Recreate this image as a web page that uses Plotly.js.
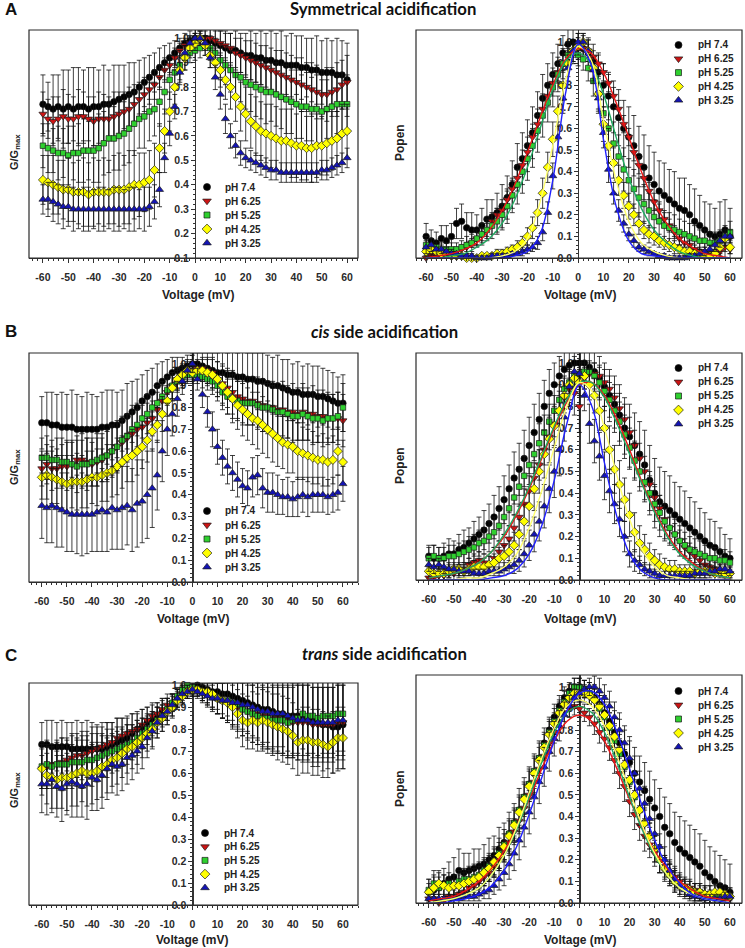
<!DOCTYPE html>
<html><head><meta charset="utf-8">
<script src="https://cdn.plot.ly/plotly-3.0.1.min.js"></script>
<style>html,body{margin:0;padding:0;background:#fff}</style>
</head><body><div id="chart" style="width:745px;height:948px"></div>
<script>
// ---------- shared categories ----------
const VOLT = [-60,-58,-56,-54,-52,-50,-48,-46,-44,-42, -40,-38,-36,-34,-32,-30,-28,-26,-24,-22, -20,-18,-16,-14,-12,-10,-8,-6,-4,-2, 0,2,4,6,8,10,12,14,16,18, 20,22,24,26,28,30,32,34,36,38, 40,42,44,46,48,50,52,54,56,58, 60];
const FIT_V = [-60,-55,-50,-45,-40,-35,-30,-25,-20,-15,-10,-5,0,5,10,15,20,25,30,35,40,45,50,55,60];
const SERIES_NAMES = ['pH 7.4','pH 6.25','pH 5.25','pH 4.25','pH 3.25'];
const X_TICKS = [-60,-50,-40,-30,-20,-10,0,10,20,30,40,50,60];
const X_TICK_LABELS = ['-60','-50','-40','-30','-20','-10','0','10','20','30','40','50','60'];

// ---------- A left: G/Gmax, symmetrical ----------
const AL_74  = [.73,.72,.71,.72,.71,.72,.71,.72,.72,.71, .72,.72,.73,.73,.74,.75,.76,.77,.78,.80, .82,.84,.86,.88,.90,.92,.94,.96,.98,.99, 1.0,1.0,1.0,.99,.98,.97,.96,.95,.95,.94, .93,.93,.92,.92,.91,.91,.90,.90,.89,.89, .89,.88,.88,.87,.87,.86,.86,.86,.85,.85, .83];
const AL_74e = [.12,.10,.14,.13,.16,.15,.17,.16,.15,.17, .16,.15,.16,.14,.15,.14,.13,.13,.12,.11, .10,.09,.08,.08,.07,.06,.05,.04,.04,.04, .04,.03,.04,.05,.06,.06,.07,.07,.08,.08, .09,.10,.10,.11,.11,.12,.12,.13,.12,.13, .12,.13,.12,.13,.14,.13,.14,.13,.15,.14, .15];
const AL_625  = [.69,.67,.66,.67,.68,.67,.67,.68,.68,.67, .66,.67,.67,.67,.68,.69,.70,.71,.73,.75, .77,.79,.81,.84,.87,.89,.92,.95,.97,.98, .99,1.0,1.0,1.0,.99,.98,.97,.96,.94,.93, .92,.91,.90,.89,.88,.87,.86,.85,.84,.83, .82,.81,.80,.79,.78,.77,.77,.78,.79,.81, .82];
const AL_625e = [.09,.08,.10,.09,.11,.10,.09,.11,.10,.09, .10,.11,.10,.09,.10,.09,.08,.09,.08,.07, .07,.06,.06,.05,.05,.04,.04,.03,.03,.03, .03,.03,.03,.04,.04,.05,.05,.06,.06,.07, .07,.08,.08,.08,.09,.09,.09,.10,.10,.10, .10,.11,.10,.11,.11,.10,.11,.10,.11,.10, .11];
const AL_525  = [.56,.55,.54,.53,.53,.52,.53,.53,.54,.54, .54,.55,.57,.59,.59,.60,.61,.63,.65,.67, .68,.70,.71,.74,.78,.83,.86,.89,.92,.94, .95,.96,.97,.96,.94,.91,.89,.87,.85,.84, .82,.81,.80,.79,.78,.78,.77,.76,.75,.74, .73,.72,.72,.71,.71,.70,.71,.72,.73,.73, .73];
const AL_525e = [.09,.10,.09,.11,.10,.12,.11,.12,.13,.12, .13,.14,.13,.14,.13,.14,.13,.14,.13,.12, .13,.12,.11,.10,.09,.08,.07,.06,.05,.04, .04,.04,.04,.05,.06,.07,.08,.09,.10,.10, .11,.11,.12,.12,.13,.12,.13,.13,.14,.13, .14,.13,.14,.13,.14,.13,.12,.13,.12,.13, .12];
const AL_425  = [.42,.41,.40,.39,.38,.38,.37,.37,.37,.36, .37,.37,.37,.37,.38,.38,.38,.39,.40,.40, .41,.42,.46,.55,.62,.70,.80,.87,.92,.96, .98,1.0,.97,.93,.90,.87,.83,.80,.76,.72, .69,.66,.64,.62,.61,.60,.59,.58,.58,.57, .56,.56,.55,.55,.56,.56,.57,.58,.59,.61, .62];
const AL_425e = [.10,.11,.12,.11,.12,.13,.12,.13,.14,.13, .14,.13,.14,.13,.14,.15,.14,.15,.14,.13, .12,.12,.11,.10,.09,.08,.07,.06,.05,.04, .03,.03,.04,.05,.06,.07,.08,.09,.10,.10, .11,.11,.12,.12,.12,.13,.13,.13,.13,.14, .13,.14,.13,.14,.13,.12,.13,.12,.11,.12, .11];
const AL_325  = [.34,.34,.33,.32,.31,.31,.30,.30,.30,.30, .30,.30,.30,.30,.30,.30,.30,.30,.30,.30, .30,.31,.33,.38,.51,.61,.72,.86,.94,.98, 1.0,1.0,.98,.92,.84,.77,.67,.60,.56,.53, .51,.50,.49,.48,.47,.46,.46,.45,.45,.45, .45,.45,.45,.45,.45,.46,.46,.47,.48,.49, .51];
const AL_325e = [.06,.07,.08,.08,.09,.08,.09,.08,.09,.09, .08,.09,.09,.08,.09,.09,.08,.09,.09,.08, .09,.08,.07,.07,.06,.05,.05,.04,.03,.03, .02,.02,.03,.04,.05,.06,.06,.05,.05,.05, .04,.04,.04,.04,.04,.04,.04,.04,.04,.04, .04,.04,.04,.04,.04,.04,.04,.04,.04,.04, .04];

// ---------- A right: Popen, symmetrical ----------
const AR_74  = [.10,.08,.07,.09,.08,.10,.16,.17,.14,.13, .13,.15,.18,.19,.21,.24,.28,.34,.42,.46, .52,.58,.66,.74,.80,.85,.90,.95,.99,1.0, .98,.97,.95,.91,.86,.80,.75,.70,.65,.60, .56,.52,.47,.42,.37,.34,.31,.29,.27,.25, .23,.22,.20,.17,.15,.13,.11,.10,.11,.13, .10];
const AR_74e = [.06,.05,.05,.06,.07,.06,.07,.08,.07,.08, .07,.08,.09,.08,.09,.10,.10,.11,.11,.12, .12,.12,.11,.11,.10,.10,.09,.08,.07,.06, .06,.06,.07,.08,.09,.10,.11,.12,.13,.13, .14,.14,.14,.15,.15,.15,.14,.15,.14,.15, .14,.15,.14,.15,.14,.13,.14,.13,.15,.14, .13];
const AR_625  = [.00,.01,.01,.01,.02,.02,.03,.04,.05,.07, .09,.11,.13,.17,.20,.22,.27,.32,.37,.43, .49,.56,.62,.69,.75,.81,.86,.90,.94,.96, .97,.97,.96,.93,.90,.86,.81,.75,.69,.62, .56,.49,.43,.37,.31,.26,.22,.18,.15,.12, .09,.07,.06,.04,.03,.03,.02,.02,.03,.05, .04];
const AR_625e = [.01,.01,.01,.01,.01,.02,.02,.02,.02,.02, .03,.03,.03,.03,.03,.03,.04,.04,.04,.04, .04,.04,.04,.04,.04,.04,.04,.04,.03,.03, .03,.03,.03,.03,.04,.04,.04,.04,.04,.04, .04,.04,.04,.04,.04,.04,.04,.03,.03,.03, .03,.03,.02,.02,.02,.02,.02,.02,.02,.02, .02];
const AR_525  = [.06,.05,.05,.04,.04,.04,.04,.05,.06,.07, .09,.11,.13,.15,.17,.20,.24,.29,.34,.40, .46,.52,.59,.66,.72,.79,.85,.90,.94,.95, .94,.92,.88,.82,.76,.67,.60,.53,.47,.41, .36,.32,.28,.25,.22,.19,.17,.15,.14,.13, .12,.11,.10,.09,.08,.08,.07,.07,.08,.10, .12];
const AR_525e = [.04,.04,.03,.03,.03,.03,.03,.03,.04,.04, .04,.05,.05,.06,.06,.07,.08,.08,.09,.10, .10,.10,.10,.10,.09,.09,.08,.07,.06,.05, .05,.05,.06,.07,.08,.09,.10,.10,.10,.10, .10,.09,.09,.09,.08,.08,.08,.07,.07,.07, .06,.06,.06,.06,.05,.05,.05,.05,.05,.05, .05];
const AR_425  = [.03,.04,.03,.02,.02,.01,.01,.01,.00,.00, .00,.01,.01,.01,.02,.02,.03,.04,.05,.07, .10,.14,.21,.30,.42,.55,.68,.80,.90,.96, .98,1.0,.96,.88,.76,.62,.52,.44,.36,.29, .24,.20,.16,.13,.11,.10,.08,.07,.06,.05, .04,.03,.03,.02,.02,.01,.01,.02,.05,.09, .05];
const AR_425e = [.02,.02,.02,.02,.02,.02,.01,.01,.01,.01, .01,.01,.01,.01,.02,.02,.02,.02,.03,.03, .04,.05,.06,.07,.07,.08,.07,.07,.06,.05, .04,.04,.05,.06,.07,.08,.08,.07,.07,.06, .06,.05,.05,.04,.04,.04,.03,.03,.03,.03, .02,.02,.02,.02,.02,.02,.02,.02,.03,.03, .03];
const AR_325  = [.05,.06,.04,.04,.03,.02,.02,.01,.01,.01, .00,.00,.00,.01,.01,.01,.01,.02,.02,.03, .04,.05,.07,.12,.21,.38,.56,.74,.88,.96, 1.0,1.0,.96,.87,.74,.58,.41,.30,.22,.16, .11,.08,.05,.04,.03,.02,.01,.01,.00,.00, .00,.00,.01,.01,.02,.03,.04,.06,.08,.10, .10];
const AR_325e = [.03,.03,.03,.02,.02,.02,.01,.01,.01,.01, .01,.01,.01,.01,.01,.01,.01,.01,.01,.02, .02,.02,.03,.04,.05,.06,.07,.07,.06,.05, .04,.04,.05,.06,.07,.07,.06,.05,.05,.04, .03,.03,.02,.02,.02,.01,.01,.01,.01,.01, .01,.01,.01,.01,.02,.02,.02,.03,.03,.03, .03];
const AR_F625 = [.00,.01,.02,.04,.07,.13,.22,.34,.49,.65,.80,.92,.97,.95,.86,.72,.56,.40,.26,.16,.09,.05,.02,.01,.00];
const AR_F525 = [.00,.00,.01,.02,.05,.09,.16,.27,.42,.60,.78,.91,.95,.90,.76,.56,.37,.23,.13,.07,.03,.01,.00,.00,.00];
const AR_F425 = [.00,.00,.00,.00,.00,.00,.01,.03,.09,.26,.52,.82,.98,.92,.64,.36,.17,.07,.03,.01,.00,.00,.00,.00,.00];
const AR_F325 = [.00,.00,.00,.00,.00,.00,.00,.01,.03,.11,.36,.76,.99,.90,.55,.24,.08,.02,.01,.00,.00,.00,.00,.00,.00];

// ---------- B left: G/Gmax, cis ----------
const BL_74  = [.73,.73,.72,.72,.71,.71,.71,.70,.70,.70, .70,.70,.71,.71,.72,.72,.74,.76,.78,.80, .83,.85,.87,.90,.92,.94,.96,.97,.98,.99, 1.0,1.0,.99,.98,.97,.96,.96,.95,.95,.94, .94,.93,.93,.92,.92,.91,.90,.90,.89,.88, .87,.87,.86,.86,.86,.85,.85,.84,.83,.82, .82];
const BL_74e = [.12,.14,.15,.14,.16,.15,.17,.16,.15,.17, .16,.15,.16,.17,.16,.15,.14,.15,.14,.13, .12,.12,.11,.10,.09,.08,.07,.06,.05,.05, .05,.05,.06,.07,.08,.09,.10,.10,.11,.11, .12,.12,.12,.13,.13,.13,.13,.14,.13,.14, .13,.14,.13,.14,.13,.14,.13,.13,.13,.12, .13];
const BL_625  = [.52,.54,.52,.52,.53,.53,.54,.56,.56,.55, .54,.55,.56,.58,.60,.62,.64,.66,.68,.70, .71,.73,.75,.79,.83,.87,.90,.93,.95,.96, .97,.98,.98,.97,.96,.93,.91,.89,.87,.85, .84,.83,.83,.82,.81,.80,.80,.79,.79,.78, .78,.77,.78,.77,.77,.76,.76,.75,.75,.75, .74];
const BL_625e = [.08,.09,.10,.09,.10,.11,.10,.11,.12,.11, .10,.11,.10,.11,.12,.11,.10,.11,.10,.09, .10,.09,.08,.08,.07,.06,.06,.05,.04,.04, .04,.04,.05,.06,.07,.08,.09,.09,.10,.10, .11,.11,.11,.12,.12,.12,.12,.12,.13,.12, .13,.12,.13,.12,.13,.12,.12,.12,.11,.12, .12];
const BL_525  = [.57,.57,.56,.56,.55,.55,.54,.53,.54,.54, .55,.56,.57,.58,.60,.62,.65,.67,.70,.72, .75,.77,.80,.82,.85,.88,.90,.92,.94,.95, .95,.95,.94,.93,.92,.90,.87,.85,.84,.83, .82,.82,.82,.81,.80,.80,.79,.78,.78,.77, .76,.76,.77,.76,.75,.75,.74,.75,.75,.76, .80];
const BL_525e = [.09,.10,.09,.10,.11,.10,.11,.12,.11,.12, .11,.12,.11,.12,.11,.12,.11,.10,.11,.10, .09,.09,.08,.08,.07,.06,.06,.05,.05,.04, .04,.04,.05,.05,.06,.07,.08,.08,.09,.09, .10,.10,.10,.10,.11,.11,.11,.11,.11,.11, .12,.11,.12,.11,.12,.11,.12,.11,.11,.11, .11];
const BL_425  = [.48,.49,.48,.47,.46,.45,.46,.46,.46,.47, .48,.48,.49,.50,.51,.53,.55,.57,.58,.60, .62,.65,.69,.72,.77,.83,.89,.93,.95,.97, .96,.97,.97,.96,.95,.93,.90,.87,.84,.81, .79,.77,.75,.74,.72,.70,.68,.66,.64,.63, .62,.60,.59,.58,.57,.56,.56,.55,.56,.60, .55];
const BL_425e = [.10,.11,.12,.11,.12,.13,.12,.13,.12,.13, .12,.13,.12,.13,.12,.13,.12,.11,.12,.11, .10,.10,.09,.08,.08,.07,.06,.05,.05,.04, .04,.04,.05,.06,.07,.08,.09,.10,.11,.11, .12,.12,.12,.13,.13,.13,.13,.13,.12,.13, .12,.13,.12,.12,.12,.11,.12,.11,.11,.11, .10];
const BL_325  = [.35,.34,.35,.34,.33,.32,.31,.31,.31,.31, .31,.32,.33,.32,.34,.33,.34,.35,.33,.36, .37,.40,.43,.49,.60,.70,.77,.84,.92,.97, 1.0,.93,.86,.78,.70,.62,.57,.53,.50,.47, .44,.43,.48,.49,.43,.41,.41,.40,.39,.39, .38,.39,.40,.39,.40,.40,.40,.39,.40,.41, .45];
const BL_325e = [.15,.16,.17,.18,.17,.18,.17,.18,.19,.18, .17,.18,.19,.18,.19,.18,.19,.18,.19,.20, .19,.20,.18,.16,.14,.12,.10,.08,.06,.05, .04,.05,.06,.07,.08,.08,.08,.08,.08,.08, .08,.08,.09,.09,.09,.09,.09,.09,.08,.09, .08,.09,.08,.09,.08,.08,.08,.08,.08,.08, .08];

// ---------- B right: Popen, cis ----------
const BR_74  = [.11,.10,.10,.11,.12,.12,.14,.15,.17,.19, .21,.23,.26,.29,.33,.37,.42,.47,.51,.56, .62,.68,.74,.80,.86,.90,.94,.97,.99,1.0, 1.0,1.0,.98,.96,.93,.89,.85,.81,.76,.70, .66,.62,.58,.53,.46,.40,.36,.34,.32,.30, .28,.26,.24,.22,.20,.18,.16,.15,.13,.11, .10];
const BR_74e = [.05,.06,.05,.06,.07,.06,.07,.08,.07,.08, .08,.09,.09,.10,.10,.11,.11,.12,.12,.13, .13,.13,.12,.12,.11,.10,.09,.08,.07,.07, .06,.07,.08,.09,.10,.11,.12,.13,.14,.14, .15,.15,.15,.16,.16,.16,.16,.16,.16,.15, .15,.15,.14,.14,.13,.13,.12,.12,.11,.10, .09];
const BR_625  = [.01,.01,.02,.02,.03,.03,.04,.05,.07,.08, .09,.08,.07,.10,.13,.16,.19,.24,.29,.35, .41,.47,.53,.60,.66,.72,.78,.84,.88,.86, .80,.93,.95,.95,.94,.91,.88,.84,.79,.74, .68,.62,.56,.50,.44,.38,.33,.28,.24,.21, .18,.15,.13,.11,.09,.07,.06,.05,.04,.03, .03];
const BR_625e = [.02,.02,.02,.02,.02,.03,.03,.03,.03,.04, .04,.04,.04,.05,.05,.05,.06,.06,.06,.07, .07,.07,.07,.07,.06,.06,.06,.05,.05,.10, .12,.05,.05,.05,.05,.06,.06,.06,.07,.07, .07,.07,.07,.07,.06,.06,.06,.05,.05,.05, .05,.04,.04,.04,.03,.03,.03,.03,.02,.02, .02];
const BR_525  = [.10,.11,.10,.10,.11,.11,.12,.13,.14,.15, .17,.18,.20,.22,.25,.29,.33,.38,.43,.48, .53,.58,.63,.68,.73,.78,.83,.88,.91,.94, .95,.96,.96,.94,.91,.87,.83,.78,.73,.67, .61,.55,.50,.45,.40,.35,.31,.27,.24,.21, .18,.16,.14,.13,.12,.11,.10,.10,.09,.09, .08];
const BR_525e = [.05,.05,.05,.05,.05,.05,.05,.05,.06,.06, .06,.06,.07,.07,.07,.08,.08,.08,.09,.09, .09,.09,.09,.08,.08,.07,.07,.06,.05,.05, .05,.05,.05,.06,.07,.07,.08,.08,.09,.09, .09,.09,.09,.09,.08,.08,.08,.08,.07,.07, .07,.06,.06,.06,.06,.05,.05,.05,.05,.05, .05];
const BR_425  = [.04,.03,.03,.03,.04,.05,.05,.04,.05,.06, .06,.06,.07,.08,.10,.11,.13,.16,.21,.27, .34,.42,.50,.58,.65,.71,.78,.85,.90,.93, .91,.94,.90,.85,.78,.70,.60,.51,.44,.37, .30,.22,.17,.14,.11,.09,.07,.06,.05,.05, .04,.04,.04,.03,.04,.04,.04,.03,.04,.03, .03];
const BR_425e = [.03,.03,.03,.03,.03,.03,.03,.03,.03,.03, .04,.04,.04,.04,.05,.05,.05,.06,.07,.08, .09,.10,.10,.11,.11,.10,.09,.08,.07,.06, .06,.06,.07,.08,.09,.10,.11,.11,.11,.10, .10,.09,.08,.07,.06,.05,.05,.04,.04,.04, .03,.03,.03,.03,.03,.03,.03,.03,.03,.03, .03];
const BR_325  = [.07,.06,.07,.06,.05,.05,.04,.04,.04,.03, .03,.03,.04,.04,.04,.05,.06,.07,.09,.12, .16,.21,.27,.34,.42,.50,.60,.75,.89,.96, .95,.85,.72,.64,.57,.48,.41,.35,.28,.20, .12,.09,.07,.05,.04,.03,.02,.02,.02,.02, .02,.02,.02,.03,.03,.03,.04,.04,.05,.05, .04];
const BR_325e = [.03,.03,.03,.03,.03,.02,.02,.02,.02,.02, .02,.02,.02,.02,.02,.03,.03,.04,.05,.06, .07,.08,.09,.10,.11,.12,.12,.11,.09,.07, .06,.07,.09,.10,.11,.11,.10,.09,.08,.07, .06,.05,.04,.03,.03,.02,.02,.02,.02,.02, .02,.02,.02,.02,.02,.02,.02,.02,.02,.02, .02];
const BR_F625 = [.01,.02,.03,.05,.08,.13,.20,.30,.42,.56,.70,.82,.90,.91,.85,.74,.60,.45,.32,.21,.13,.08,.04,.02,.01];
const BR_F525 = [.01,.02,.03,.05,.08,.13,.21,.31,.43,.57,.71,.83,.91,.91,.84,.72,.58,.44,.31,.20,.12,.07,.04,.02,.01];
const BR_F425 = [.00,.00,.00,.01,.01,.03,.06,.12,.24,.41,.61,.80,.91,.87,.70,.48,.28,.14,.06,.02,.01,.00,.00,.00,.00];
const BR_F325 = [.00,.00,.00,.00,.00,.01,.02,.05,.12,.25,.46,.72,.90,.80,.54,.29,.12,.04,.01,.00,.00,.00,.00,.00,.00];

// ---------- C left: G/Gmax, trans ----------
const CL_74  = [.73,.73,.72,.72,.72,.72,.71,.71,.71,.71, .71,.71,.71,.72,.73,.74,.75,.76,.78,.80, .81,.83,.84,.86,.88,.89,.91,.94,.96,.98, .99,1.0,.99,.98,.97,.97,.96,.96,.95,.94, .93,.92,.91,.90,.89,.89,.88,.87,.87,.86, .86,.86,.85,.85,.84,.83,.82,.82,.81,.81, .82];
const CL_74e = [.10,.11,.12,.11,.12,.11,.12,.13,.12,.13, .12,.11,.12,.11,.10,.11,.10,.09,.09,.08, .08,.07,.07,.06,.06,.05,.05,.04,.04,.03, .03,.04,.05,.06,.07,.08,.09,.10,.11,.12, .13,.14,.15,.15,.16,.17,.17,.18,.18,.19, .19,.20,.20,.20,.21,.20,.21,.20,.21,.20, .20];
const CL_625  = [.62,.63,.64,.64,.65,.66,.67,.68,.68,.69, .70,.71,.72,.73,.74,.76,.77,.78,.79,.80, .82,.84,.86,.87,.89,.91,.92,.94,.96,.97, .98,.98,.97,.96,.95,.94,.93,.92,.91,.90, .89,.88,.87,.87,.86,.86,.85,.85,.84,.84, .83,.83,.83,.83,.82,.82,.82,.82,.82,.83, .83];
const CL_625e = [.09,.10,.09,.10,.11,.10,.11,.10,.11,.10, .11,.10,.09,.10,.09,.09,.08,.08,.08,.07, .07,.06,.06,.05,.05,.05,.04,.04,.03,.03, .03,.03,.04,.05,.06,.07,.08,.09,.10,.11, .12,.13,.13,.14,.14,.15,.15,.15,.16,.16, .16,.17,.17,.17,.17,.17,.17,.17,.17,.17, .17];
const CL_525  = [.63,.64,.63,.64,.64,.64,.65,.65,.65,.66, .66,.67,.68,.69,.70,.71,.72,.73,.74,.76, .78,.80,.82,.84,.86,.89,.92,.95,.98,1.0, .99,.98,.97,.96,.95,.94,.93,.93,.92,.91, .89,.88,.87,.86,.85,.85,.84,.84,.84,.83, .84,.85,.87,.86,.86,.85,.86,.86,.86,.87, .87];
const CL_525e = [.10,.11,.10,.11,.12,.11,.12,.11,.12,.11, .12,.11,.10,.11,.10,.10,.09,.09,.08,.08, .07,.07,.06,.06,.05,.05,.04,.04,.03,.03, .03,.03,.04,.05,.06,.07,.08,.09,.10,.11, .12,.12,.13,.13,.14,.14,.15,.15,.15,.16, .16,.16,.16,.17,.17,.17,.17,.17,.17,.17, .17];
const CL_425  = [.62,.59,.58,.57,.58,.58,.59,.60,.61,.60, .60,.61,.63,.64,.66,.67,.69,.71,.72,.74, .76,.78,.80,.83,.85,.88,.90,.93,.95,.97, .98,.98,.97,.97,.96,.94,.93,.92,.90,.87, .84,.83,.84,.83,.84,.83,.82,.81,.80,.79, .77,.74,.75,.75,.74,.74,.73,.72,.74,.76, .76];
const CL_425e = [.12,.13,.14,.13,.14,.15,.14,.15,.14,.15, .14,.13,.14,.13,.12,.12,.11,.11,.10,.10, .09,.08,.08,.07,.06,.06,.05,.04,.04,.03, .03,.03,.04,.05,.06,.07,.08,.09,.10,.11, .12,.12,.13,.13,.14,.14,.14,.15,.15,.15, .15,.15,.15,.15,.15,.15,.15,.14,.14,.14, .14];
const CL_325  = [.55,.55,.57,.54,.53,.55,.56,.55,.54,.55, .58,.57,.59,.62,.64,.63,.64,.67,.68,.70, .72,.76,.79,.83,.86,.88,.91,.94,.96,.97, .98,.97,.96,.95,.94,.94,.93,.93,.92,.92, .91,.91,.90,.89,.88,.88,.87,.87,.87,.86, .85,.84,.84,.84,.83,.83,.83,.83,.83,.84, .84];
const CL_325e = [.13,.14,.15,.14,.15,.14,.16,.15,.14,.16, .15,.14,.15,.14,.13,.13,.12,.12,.11,.10, .10,.09,.08,.07,.07,.06,.05,.04,.04,.03, .03,.03,.04,.05,.06,.07,.08,.09,.10,.11, .12,.12,.13,.13,.14,.14,.15,.15,.15,.16, .16,.16,.16,.16,.16,.16,.16,.16,.16,.16, .16];

// ---------- C right: Popen, trans ----------
const CR_74  = [.05,.06,.07,.09,.11,.12,.15,.14,.15,.16, .17,.18,.20,.22,.25,.28,.32,.37,.43,.49, .55,.60,.67,.74,.80,.86,.91,.95,.98,1.0, 1.0,.99,.97,.95,.92,.88,.84,.79,.74,.69, .65,.60,.56,.52,.48,.44,.40,.35,.32,.28, .25,.23,.21,.19,.17,.14,.12,.10,.08,.07, .05];
const CR_74e = [.06,.07,.08,.07,.08,.09,.10,.09,.08,.09, .08,.09,.10,.09,.10,.09,.10,.09,.10,.09, .08,.09,.08,.07,.06,.06,.05,.05,.04,.04, .04,.04,.05,.06,.07,.08,.09,.10,.11,.11, .12,.12,.12,.13,.13,.13,.13,.14,.14,.14, .15,.15,.15,.15,.15,.15,.14,.14,.14,.13, .13];
const CR_625  = [.02,.02,.00,.01,.03,.03,.04,.05,.07,.08, .10,.12,.14,.17,.20,.24,.28,.33,.38,.44, .50,.56,.62,.68,.74,.79,.84,.88,.90,.91, .90,.88,.86,.83,.79,.76,.72,.66,.60,.54, .47,.41,.36,.31,.27,.23,.20,.17,.14,.12, .10,.08,.07,.06,.05,.04,.03,.03,.02,.02, .02];
const CR_625e = [.02,.02,.02,.02,.03,.03,.03,.03,.03,.04, .04,.04,.04,.05,.05,.05,.05,.06,.06,.06, .06,.06,.06,.06,.05,.05,.05,.04,.04,.04, .04,.04,.04,.05,.05,.06,.06,.06,.07,.07, .07,.07,.07,.07,.06,.06,.06,.05,.05,.05, .04,.04,.04,.03,.03,.03,.03,.02,.02,.02, .02];
const CR_525  = [.06,.09,.07,.08,.09,.08,.10,.11,.11,.12, .13,.15,.17,.19,.23,.27,.32,.37,.43,.49, .55,.61,.67,.73,.79,.84,.89,.93,.97,1.0, 1.0,.99,.97,.94,.90,.86,.81,.75,.69,.63, .56,.49,.43,.37,.31,.25,.20,.16,.13,.10, .08,.07,.06,.05,.05,.04,.04,.04,.04,.03, .03];
const CR_525e = [.05,.06,.05,.05,.05,.05,.05,.05,.06,.06, .06,.06,.06,.07,.07,.07,.07,.07,.07,.07, .07,.07,.07,.06,.06,.06,.05,.05,.04,.04, .04,.04,.05,.05,.06,.06,.07,.07,.07,.07, .07,.07,.07,.07,.06,.06,.06,.06,.05,.05, .05,.04,.04,.04,.04,.04,.04,.04,.04,.04, .04];
const CR_425  = [.05,.07,.09,.08,.07,.08,.08,.09,.10,.11, .12,.14,.16,.19,.22,.26,.31,.36,.42,.48, .54,.60,.66,.72,.78,.83,.88,.92,.95,.97, .97,.97,.96,.94,.91,.87,.82,.77,.71,.64, .57,.50,.43,.37,.31,.25,.20,.16,.13,.10, .08,.07,.06,.05,.05,.04,.04,.05,.05,.04, .03];
const CR_425e = [.04,.05,.05,.05,.04,.05,.05,.05,.05,.05, .05,.06,.06,.06,.06,.06,.07,.07,.07,.07, .07,.07,.06,.06,.06,.05,.05,.04,.04,.04, .04,.04,.04,.05,.05,.06,.06,.06,.07,.07, .07,.07,.07,.06,.06,.06,.06,.05,.05,.05, .04,.04,.04,.04,.04,.04,.04,.04,.04,.04, .04];
const CR_325  = [.02,.02,.02,.02,.02,.02,.02,.03,.03,.03, .04,.05,.06,.08,.11,.14,.18,.23,.29,.35, .42,.49,.56,.63,.70,.76,.82,.87,.91,.95, .97,.99,1.0,1.0,.98,.95,.91,.86,.80,.74, .67,.60,.53,.46,.39,.32,.26,.20,.15,.11, .08,.06,.04,.03,.03,.02,.02,.02,.02,.03, .03];
const CR_325e = [.02,.02,.02,.02,.02,.02,.02,.02,.02,.02, .03,.03,.04,.04,.05,.06,.07,.08,.09,.09, .10,.10,.10,.09,.09,.08,.07,.06,.05,.04, .04,.04,.04,.05,.06,.06,.07,.07,.08,.08, .08,.08,.08,.08,.07,.07,.06,.06,.05,.05, .04,.04,.03,.03,.02,.02,.02,.02,.02,.02, .02];
const CR_F625 = [.01,.02,.03,.06,.10,.16,.24,.35,.48,.62,.75,.84,.87,.84,.75,.62,.48,.35,.24,.16,.10,.06,.03,.02,.01];
const CR_F525 = [.00,.01,.02,.04,.07,.13,.22,.34,.49,.65,.79,.88,.91,.88,.79,.65,.49,.34,.22,.13,.07,.04,.02,.01,.00];
const CR_F425 = [.00,.01,.02,.04,.07,.13,.22,.35,.51,.67,.81,.91,.94,.91,.82,.68,.52,.36,.23,.13,.07,.04,.02,.01,.00];
const CR_F325 = [.00,.00,.01,.02,.04,.08,.15,.26,.41,.58,.75,.89,.97,.98,.92,.79,.62,.45,.29,.17,.09,.04,.02,.01,.00];

// ---------- styling / layout (not data) ----------
const W = 745, H = 948;
const FONT = 'Liberation Sans, Arial, sans-serif';
const MARKERS = [
  {symbol:'circle', color:'#000000', size:6.5},
  {symbol:'triangle-down', color:'#cc1414', size:7},
  {symbol:'square', color:'#2fd02f', size:5.5},
  {symbol:'diamond', color:'#ffff00', size:7},
  {symbol:'triangle-up', color:'#1414b4', size:7}
];
const FIT_COLORS = [null, '#e81818', '#1fa860', '#ffff70', '#2020ff'];

// key: [legend key column x (px), first row y (px), row pitch (px), text gap (px)]
const PANELS = [
  {box:[29,358,30,258],  xr:[-65.5,64.3], yr:[0.1,1.034], ys:[AL_74,AL_625,AL_525,AL_425,AL_325], es:[AL_74e,AL_625e,AL_525e,AL_425e,AL_325e], fits:null, key:[207,187,14,16]},
  {box:[416,742,30,258], xr:[-64.0,64.7], yr:[0,1.056], ys:[AR_74,AR_625,AR_525,AR_425,AR_325], es:[AR_74e,AR_625e,AR_525e,AR_425e,AR_325e], fits:[null,AR_F625,AR_F525,AR_F425,AR_F325], key:[679,45,13.8,18]},
  {box:[29,358,353,582], xr:[-65.1,66.0], yr:[0,1.05], ys:[BL_74,BL_625,BL_525,BL_425,BL_325], es:[BL_74e,BL_625e,BL_525e,BL_425e,BL_325e], fits:null, key:[207,511,14,16]},
  {box:[416,742,353,580], xr:[-65.1,64.8], yr:[0,1.046], ys:[BR_74,BR_625,BR_525,BR_425,BR_325], es:[BR_74e,BR_625e,BR_525e,BR_425e,BR_325e], fits:[null,BR_F625,BR_F525,BR_F425,BR_F325], key:[679,368,14,18]},
  {box:[29,358,683,905], xr:[-65.1,66.0], yr:[0,1.01], ys:[CL_74,CL_625,CL_525,CL_425,CL_325], es:[CL_74e,CL_625e,CL_525e,CL_425e,CL_325e], fits:null, key:[205,833,13.7,17]},
  {box:[416,742,675,903], xr:[-65.1,64.8], yr:[0,1.055], ys:[CR_74,CR_625,CR_525,CR_425,CR_325], es:[CR_74e,CR_625e,CR_525e,CR_425e,CR_325e], fits:[null,CR_F625,CR_F525,CR_F425,CR_F325], key:[679,691,14,18]}
];

const traces = [];
const layout = {
  width: W, height: H, margin:{l:0,r:0,t:0,b:0}, autosize:false,
  paper_bgcolor:'#ffffff', plot_bgcolor:'rgba(0,0,0,0)',
  font:{family:FONT, color:'#222'}, showlegend:false,
  shapes:[], annotations:[]
};

const tickFont = {family:FONT, size:10.5, weight:'bold', color:'#2a2a2a'};
const keyFont = {family:FONT, size:10, weight:'bold', color:'#222'};

PANELS.forEach((p, i) => {
  const k = i + 1, sfx = k === 1 ? '' : String(k);
  const xa = 'x' + sfx, ya = 'y' + sfx;
  const xd = [p.box[0]/W, p.box[1]/W];
  const yd = [1 - p.box[3]/H, 1 - p.box[2]/H];
  const pos = xd[0] + (0 - p.xr[0])/(p.xr[1]-p.xr[0])*(xd[1]-xd[0]);

  layout['xaxis'+sfx] = {
    domain:xd, range:p.xr, anchor:ya, showgrid:false, zeroline:false,
    showline:true, linecolor:'#333', linewidth:1.2,
    tickvals:X_TICKS, ticktext:X_TICK_LABELS, ticks:'outside', ticklen:4, tickwidth:1, tickcolor:'#333',
    ticklabelstandoff:5,
    minor:{dtick:2, tick0:0, ticks:'outside', ticklen:2, tickcolor:'#333'},
    tickfont:tickFont, fixedrange:true
  };
  layout['yaxis'+sfx] = {
    domain:yd, range:p.yr, anchor:'free', position:pos, showgrid:false, zeroline:false,
    showline:true, linecolor:'#333', linewidth:1.2, layer:'below traces',
    dtick:0.1, tick0:0, tickformat:'.1f', ticks:'outside', ticklen:4, tickwidth:1, tickcolor:'#333',
    minor:{dtick:0.02, ticks:'outside', ticklen:2, tickcolor:'#333'},
    tickfont:tickFont, fixedrange:true
  };
  layout.shapes.push({type:'rect', xref:xa+' domain', yref:ya+' domain', x0:0, x1:1, y0:0, y1:1,
    line:{color:'#2a2a2a', width:1.2}, fillcolor:'rgba(0,0,0,0)', layer:'above'});

  p.ys.forEach((yv, s) => {
    const m = MARKERS[s];
    traces.push({
      type:'scatter', mode:'markers', name:SERIES_NAMES[s], x:VOLT, y:yv,
      xaxis:xa, yaxis:ya, showlegend:false, cliponaxis:false,
      error_y:{type:'data', array:p.es[s], visible:true, color:'#111', thickness:0.8, width:2.5},
      marker:{symbol:m.symbol, color:m.color, size:m.size, line:{color:'#1a1a1a', width:0.7}},
      hoverinfo:'skip'
    });
  });
  if (p.fits) {
    p.fits.forEach((fv, s) => {
      if (!fv) return;
      traces.push({
        type:'scatter', mode:'lines', x:FIT_V, y:fv, xaxis:xa, yaxis:ya, showlegend:false,
        line:{color:FIT_COLORS[s], width:1.4, shape:'spline', smoothing:1}, hoverinfo:'skip'
      });
    });
  }

  // legend key: a small hidden axis pair whose units are pixels; one row per series index
  const lk = k + 6;
  const kx = p.key[0], ky = p.key[1], pitch = p.key[2], gap = p.key[3];
  const n = SERIES_NAMES.length;
  const top = ky - pitch/2, bottom = ky + pitch*(n - 0.5);
  layout['xaxis'+lk] = {domain:[(kx-10)/W, (kx+70)/W], range:[-10,70], visible:false, fixedrange:true, anchor:'y'+lk};
  layout['yaxis'+lk] = {domain:[1-bottom/H, 1-top/H], range:[n-0.5,-0.5], visible:false, fixedrange:true, anchor:'x'+lk};
  SERIES_NAMES.forEach((nm, s) => {
    const m = MARKERS[s];
    traces.push({
      type:'scatter', mode:'markers', name:nm, x:[0], y:[s], xaxis:'x'+lk, yaxis:'y'+lk,
      showlegend:false, cliponaxis:false, hoverinfo:'skip',
      marker:{symbol:m.symbol, color:m.color, size:m.size + 0.5, line:{color:'#1a1a1a', width:0.7}}
    });
    layout.annotations.push({text:nm, xref:'x'+lk, yref:'y'+lk, x:gap, y:s, xanchor:'left', yanchor:'middle',
      showarrow:false, font:keyFont});
  });
});

function ann(text, x, y, opts) {
  return Object.assign({text:text, xref:'paper', yref:'paper', x:x/W, y:1 - y/H,
    showarrow:false, xanchor:'center', yanchor:'middle'}, opts || {});
}
const titleFont = {family:'Lato, Open Sans, sans-serif', size:16.7, weight:'bold', color:'#111'};
const letterFont = {family:FONT, size:17, weight:'bold', color:'#111'};
const axFont = {family:FONT, size:12, weight:'bold', color:'#222'};
const gFont = {family:FONT, size:11, weight:'bold', color:'#222'};

layout.annotations.push(
  ann('A', 3, 9, {xanchor:'left', font:letterFont}),
  ann('B', 3, 332, {xanchor:'left', font:letterFont}),
  ann('C', 3, 655, {xanchor:'left', font:letterFont}),
  ann('Symmetrical acidification', 383, 9, {font:titleFont}),
  ann('<i>cis</i> side acidification', 384, 332, {font:titleFont}),
  ann('<i>trans</i> side acidification', 384, 654, {font:titleFont}),
  ann('Voltage (mV)', 198, 295, {font:axFont}),
  ann('Voltage (mV)', 580, 295, {font:axFont}),
  ann('Voltage (mV)', 193, 619, {font:axFont}),
  ann('Voltage (mV)', 580, 619, {font:axFont}),
  ann('Voltage (mV)', 192, 940, {font:axFont}),
  ann('Voltage (mV)', 580, 940, {font:axFont}),
  ann('G/G<sub>max</sub>', 15, 152, {textangle:-90, font:gFont}),
  ann('G/G<sub>max</sub>', 15, 467, {textangle:-90, font:gFont}),
  ann('G/G<sub>max</sub>', 15, 790, {textangle:-90, font:gFont}),
  ann('Popen', 400, 143, {textangle:-90, font:axFont}),
  ann('Popen', 400, 466, {textangle:-90, font:axFont}),
  ann('Popen', 400, 789, {textangle:-90, font:axFont})
);

Plotly.newPlot('chart', traces, layout, {staticPlot:true, displayModeBar:false});
</script>
</body></html>
